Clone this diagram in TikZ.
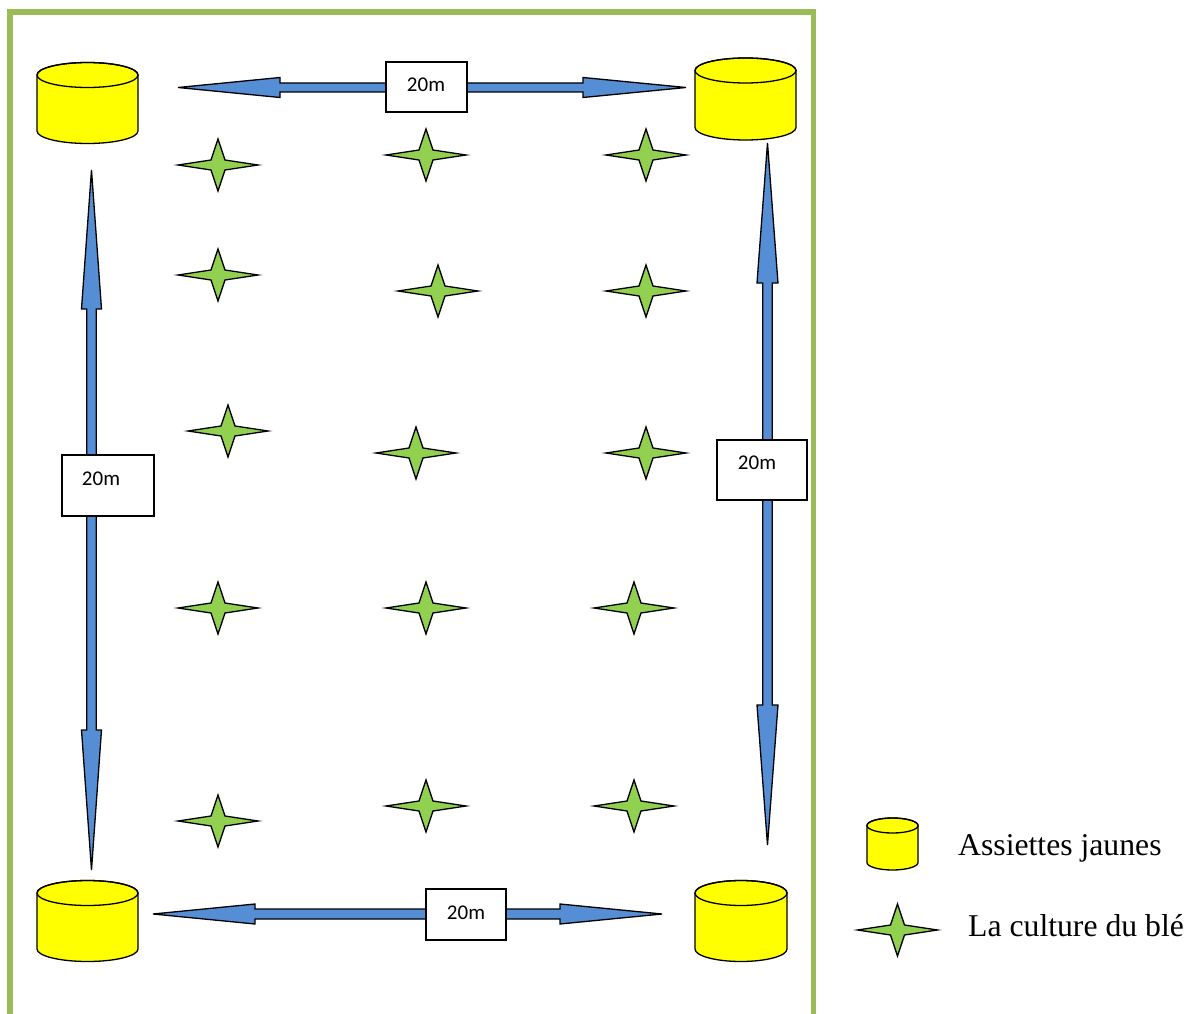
\documentclass[tikz,border=0pt]{standalone}
\usepackage{fontspec}
\setmainfont{Liberation Serif}
\newfontfamily\lblfont{Carlito}
\definecolor{framegreen}{RGB}{155,187,89}
\definecolor{arrowblue}{RGB}{85,142,213}
\definecolor{stargreen}{RGB}{146,208,80}
\definecolor{plateyellow}{RGB}{255,255,0}
\tikzset{
  frameline/.style={draw=framegreen,line width=5.3pt},
  blockarrow/.style={fill=arrowblue,draw=black,line width=1.3pt,line join=miter},
  plate/.style={fill=plateyellow,draw=black,line width=1.3pt},
  wheat/.style={fill=stargreen,draw=black,line width=1.3pt,line join=miter},
  distbox/.style={draw=black,fill=white,line width=1.1pt,inner sep=0pt},
  distnum/.style={font=\lblfont\fontsize{21}{25}\selectfont,inner sep=0pt},
  legendtext/.style={font=\fontsize{31.7}{38}\selectfont,anchor=base west,inner sep=0pt}
}
% cylinder: name, cx, ytop, ybot, rx, ry
\newcommand\plateshape[6]{%
  \coordinate (#1) at (#2,{(#3+#4)/2});
  \draw[plate] ({#2-#5},#3) -- ({#2-#5},#4)
    arc[start angle=180,end angle=360,x radius=#5pt,y radius=#6pt]
    -- ({#2+#5},#3)
    arc[start angle=0,end angle=180,x radius=#5pt,y radius=#6pt] -- cycle;
  \draw[plate,fill=none] (#2,#3) ellipse [x radius=#5pt,y radius=#6pt];}
% horizontal double block arrow: x1 x2 y h1 h2 hw sw
\newcommand\harrowshape[7]{%
  \draw[blockarrow] (#1,#3) -- ({#1+#4},{#3-#6}) -- ({#1+#4},{#3-#7})
    -- ({#2-#5},{#3-#7}) -- ({#2-#5},{#3-#6}) -- (#2,#3)
    -- ({#2-#5},{#3+#6}) -- ({#2-#5},{#3+#7}) -- ({#1+#4},{#3+#7})
    -- ({#1+#4},{#3+#6}) -- cycle;}
% vertical double block arrow: y1 y2 x h1 h2 hw sw
\newcommand\varrowshape[7]{%
  \draw[blockarrow] (#3,#1) -- ({#3-#6},{#1+#4}) -- ({#3-#7},{#1+#4})
    -- ({#3-#7},{#2-#5}) -- ({#3-#6},{#2-#5}) -- (#3,#2)
    -- ({#3+#6},{#2-#5}) -- ({#3+#7},{#2-#5}) -- ({#3+#7},{#1+#4})
    -- ({#3+#6},{#1+#4}) -- cycle;}
% four-pointed star: name x y
\newcommand\wheatstar[3]{%
  \coordinate (#1) at (#2,#3);
  \draw[wheat] ({#2-40},#3) -- ({#2-7},{#3-5}) -- (#2,{#3-26}) -- ({#2+7},{#3-5})
    -- ({#2+40},#3) -- ({#2+7},{#3+5}) -- (#2,{#3+26}) -- ({#2-7},{#3+5}) -- cycle;}
\begin{document}
\begin{tikzpicture}[x=1pt,y=-1pt]
\useasboundingbox[fill=white] (0,0) rectangle (1203,1014);
% field frame
\draw[frameline] (10,1014) -- (10,12) -- (813.5,12) -- (813.5,1014);
% plates
\plateshape{plateTL}{87.5}{75}{131}{50.5}{12.5}
\plateshape{plateTR}{745.5}{70.5}{127.5}{50.5}{12.5}
\plateshape{plateBL}{87.5}{893}{949}{50.5}{12.5}
\plateshape{plateBR}{741}{893}{949}{46}{12.5}
% arrows
\harrowshape{178}{686}{87.5}{102}{103}{10}{4.5}
\harrowshape{153}{662}{914}{102}{102}{10}{5}
\varrowshape{170}{870}{91.5}{139}{140}{10}{4.7}
\varrowshape{143}{845}{767.5}{140}{140}{10.5}{4.7}
% distance labels
\node[distbox,minimum width=81pt,minimum height=50pt] (boxT) at (426.5,87) {};
\node[distnum] (txtT) at (426,85) {20m};
\node[distbox,minimum width=80pt,minimum height=51pt] (boxB) at (466,914.5) {};
\node[distnum] (txtB) at (466,913) {20m};
\node[distbox,minimum width=92pt,minimum height=61pt] (boxL) at (108,485.5) {};
\node[distnum] (txtL) at (101,479) {20m};
\node[distbox,minimum width=90pt,minimum height=60pt] (boxR) at (762,470) {};
\node[distnum] (txtR) at (757,463) {20m};
% wheat
\wheatstar{s11}{218}{165}
\wheatstar{s12}{426}{155}
\wheatstar{s13}{646}{155}
\wheatstar{s21}{218}{275}
\wheatstar{s22}{438}{291}
\wheatstar{s23}{646}{291}
\wheatstar{s31}{228}{431}
\wheatstar{s32}{416}{453}
\wheatstar{s33}{646}{453}
\wheatstar{s41}{218}{608}
\wheatstar{s42}{426}{608}
\wheatstar{s43}{634}{608}
\wheatstar{s51}{218}{821}
\wheatstar{s52}{426}{806}
\wheatstar{s53}{634}{806}
% legend
\plateshape{legplate}{892.5}{825.5}{862.5}{25.5}{7.5}
\wheatstar{legstar}{897.5}{930}
\node[legendtext] (legA) at (958,855) {Assiettes jaunes};
\node[legendtext] (legB) at (968,936) {La culture du blé};
\end{tikzpicture}
\end{document}
